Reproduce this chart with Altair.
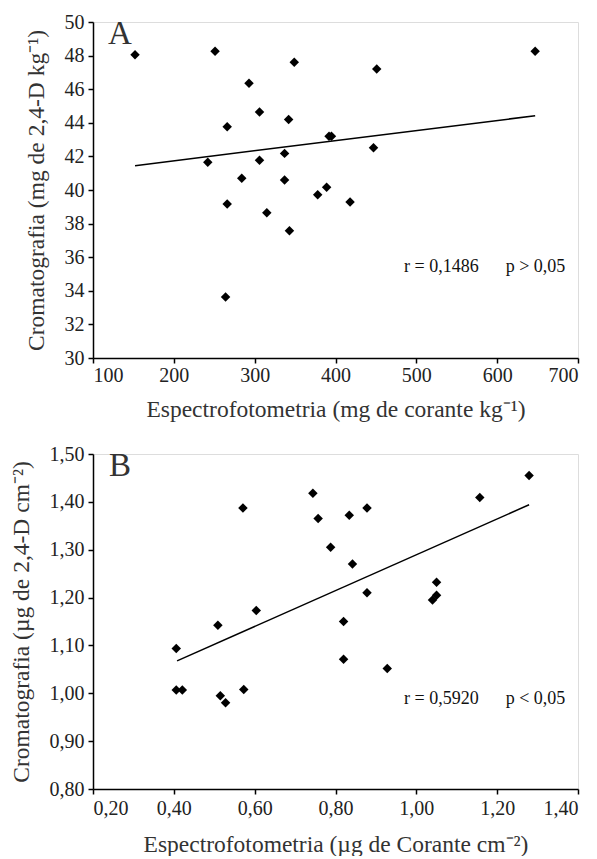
import altair as alt
import pandas as pd

FONT = "Liberation Serif"

# Panel A data (Espectrofotometria mg corante/kg vs Cromatografia mg 2,4-D/kg)
a_x = [152, 251, 349, 451, 647, 293, 306, 342, 266, 392, 395, 447,
       242, 306, 337, 284, 337, 266, 315, 343, 378, 389, 418, 264]
a_y = [48.05, 48.26, 47.6, 47.2, 48.26, 46.35, 44.64, 44.2, 43.77, 43.2, 43.2, 42.52,
       41.65, 41.77, 42.18, 40.7, 40.6, 39.17, 38.65, 37.58, 39.72, 40.16, 39.29, 33.63]
a_fit_x = [152, 647]
a_fit_y = [41.45, 44.42]
a_xticks = [100, 200, 300, 400, 500, 600, 700]
a_yticks = [30, 32, 34, 36, 38, 40, 42, 44, 46, 48, 50]

# Panel B data (µg/cm2)
b_x = [0.571, 0.744, 0.757, 0.834, 0.878, 0.788, 0.842, 0.878, 0.604, 1.157, 1.279, 1.05,
       1.04, 1.05, 0.406, 0.509, 0.82, 0.82, 0.406, 0.421, 0.515, 0.528, 0.573, 0.928]
b_y = [1.387, 1.418, 1.365, 1.372, 1.387, 1.305, 1.27, 1.21, 1.173, 1.409, 1.455, 1.232,
       1.195, 1.205, 1.0935, 1.142, 1.15, 1.071, 1.007, 1.007, 0.995, 0.98, 1.008, 1.052]
b_fit_x = [0.408, 1.279]
b_fit_y = [1.0676, 1.394]
b_xticks = [0.2, 0.4, 0.6, 0.8, 1.0, 1.2, 1.4]
b_yticks = [0.8, 0.9, 1.0, 1.1, 1.2, 1.3, 1.4, 1.5]

W, H = 485, 336
comma2 = "replace(format(datum.value, '.2f'), '.', ',')"
NB = "\u00a0"


def axis(values, title, label_expr=None, title_pad=8, label_pad=2, title_size=23.5):
    kw = dict(values=values, tickCount=len(values) + 2, title=title, grid=False,
              domainColor="black", tickColor="black", domainWidth=1.5, tickWidth=1.5,
              tickSize=5, labelFont=FONT, labelFontSize=20, labelColor="#222",
              labelOverlap=False,
              titleFont=FONT, titleFontSize=title_size, titleColor="#333",
              titleFontWeight="normal", titlePadding=title_pad, labelPadding=label_pad)
    if label_expr:
        kw["labelExpr"] = label_expr
    return alt.Axis(**kw)


def panel(xs, ys, fx, fy, xdom, ydom, xticks, yticks, xtitle, ytitle,
          letter, note, xlab=None, ylab=None, h=H, xlp=2, xtp=12):
    pts = pd.DataFrame({"x": xs, "y": ys})
    fit = pd.DataFrame({"x": fx, "y": fy})
    xsc = alt.Scale(domain=xdom, nice=False, zero=False)
    ysc = alt.Scale(domain=ydom, nice=False, zero=False)
    points = alt.Chart(pts).mark_point(shape="diamond", filled=True, size=90,
                                       color="black", opacity=1).encode(
        x=alt.X("x:Q", scale=xsc, axis=axis(xticks, xtitle, xlab, xtp, xlp)),
        y=alt.Y("y:Q", scale=ysc, axis=axis(yticks, ytitle, ylab, 16, 4)),
    )
    line = alt.Chart(fit).mark_line(color="black", strokeWidth=1.5).encode(
        x=alt.X("x:Q", scale=xsc), y=alt.Y("y:Q", scale=ysc))
    one = alt.Data(values=[{"a": 1}])
    let = alt.Chart(one).mark_text(text=letter, font=FONT, fontSize=33,
                                   color="#333", align="center",
                                   baseline="middle").encode(
        x=alt.value(27), y=alt.value(12))
    nt = alt.Chart(one).mark_text(text=note, font=FONT, fontSize=18,
                                  color="#111", align="left",
                                  baseline="middle").encode(
        x=alt.value(311), y=alt.value(245))
    return alt.layer(points, line, let, nt).properties(width=W, height=h)


chart_a = panel(a_x, a_y, a_fit_x, a_fit_y, [100, 700], [30, 50], a_xticks, a_yticks,
                "Espectrofotometria (mg de corante kg\u207b\u00b9)",
                "Cromatografia (mg de 2,4-D kg\u207b\u00b9)",
                "A", "r = 0,1486" + NB * 6 + "p > 0,05")
chart_b = panel(b_x, b_y, b_fit_x, b_fit_y, [0.2, 1.4], [0.8, 1.5], b_xticks, b_yticks,
                "Espectrofotometria (\u00b5g de Corante cm\u207b\u00b2)",
                "Cromatografia (\u00b5g de 2,4-D cm\u207b\u00b2)",
                "B", "r = 0,5920" + NB * 6 + "p < 0,05", xlab=comma2, ylab=comma2,
                h=335, xlp=4, xtp=14)

chart = alt.vconcat(chart_a, chart_b, spacing=22).properties(
    padding={"top": 3, "left": 0, "right": 5, "bottom": 0}
).configure_view(stroke=None).configure(background="white")

chart.save("out.html", embed_options={"renderer": "svg", "actions": False})
